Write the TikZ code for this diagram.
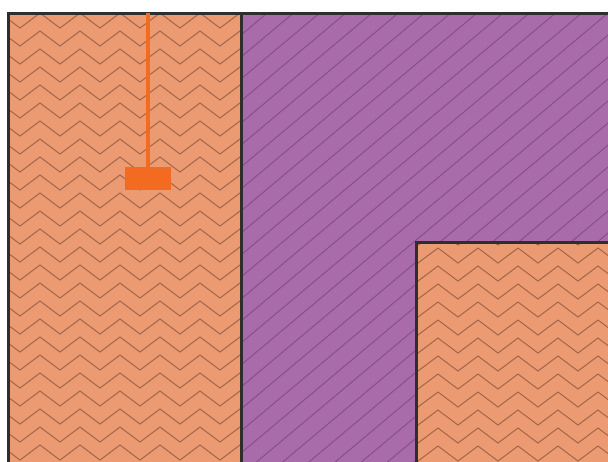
\documentclass[tikz,border=0pt]{standalone}
\usepackage{tikz}
\usetikzlibrary{positioning}
\definecolor{clayfill}{HTML}{EC9A72}
\definecolor{clayline}{HTML}{A3664A}
\definecolor{mauvefill}{HTML}{A96BAA}
\definecolor{mauveline}{HTML}{844E88}
\definecolor{probeorange}{HTML}{F36B21}
\definecolor{edgegray}{HTML}{2E2E2E}

\begin{document}
\begin{tikzpicture}[
      x=1pt, y=-1pt,
      wall/.style={draw=edgegray, line width=3pt, line join=miter},
      zigzag/.style={draw=clayline, line width=1pt, line join=miter},
      hatch/.style={draw=mauveline, line width=0.9pt},
      probebox/.style={rectangle, fill=probeorange, minimum width=46pt,
                       minimum height=23pt, inner sep=0pt},
      probestem/.style={draw=probeorange, line width=4pt},
    ]
    \useasboundingbox (0,0) rectangle (608,461);

    % purple layer with diagonal hatch
    \fill[mauvefill] (241,13) rectangle (612,466);
    \begin{scope}
      \clip (241,13) rectangle (612,466);
      \foreach \k in {0,...,36}
        \draw[hatch] (241,13+22*\k) -- ++(-40:720);
    \end{scope}

    % left clay block
    \fill[clayfill] (8,13) rectangle (241,466);
    \begin{scope}
      \clip (8,13) rectangle (241,466);
      \foreach \r in {0,...,26}
        \draw[zigzag] (0,13+18*\r) \foreach \i in {1,...,7} { -- ++(20,15) -- ++(20,-15) };
    \end{scope}

    % inner clay block
    \fill[clayfill] (416,242) rectangle (612,466);
    \begin{scope}
      \clip (416,242) rectangle (612,466);
      \foreach \r in {-1,...,12}
        \draw[zigzag] (398,248+18*\r) \foreach \i in {1,...,6} { -- ++(20,15) -- ++(20,-15) };
    \end{scope}

    % outlines
    \draw[wall] (8,466) -- (8,13) -- (612,13);
    \draw[wall] (241,13) -- (241,466);
    \draw[wall] (416,466) -- (416,242) -- (612,242);

    % probe
    \node[probebox] (probe) at (148,178.5) {};
    \coordinate (probetop) at (148,13);
    \draw[probestem] (probetop) -- (probe.north);
\end{tikzpicture}
\end{document}
